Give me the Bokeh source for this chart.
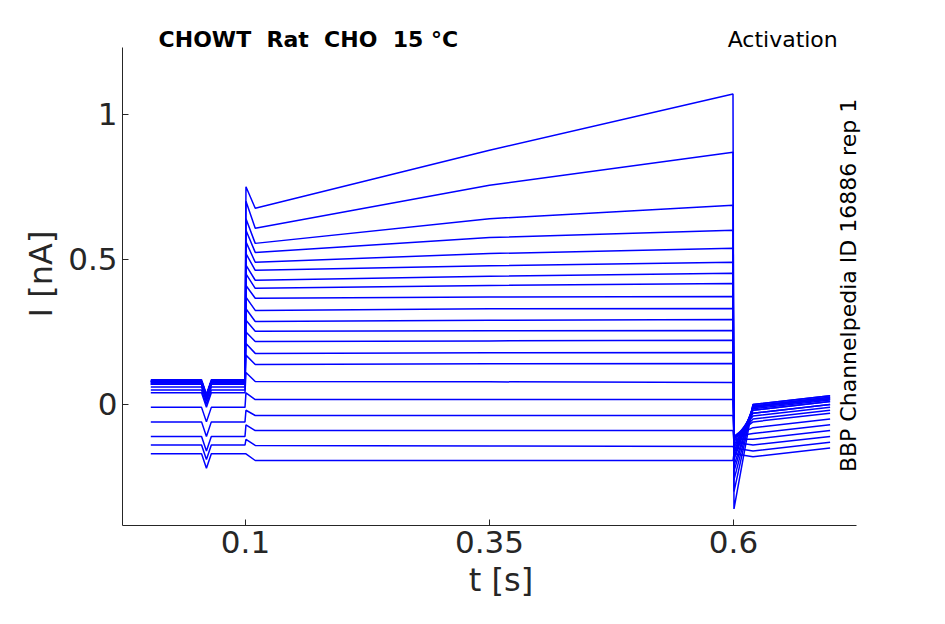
import numpy as np
from bokeh.plotting import figure
from bokeh.models import Label, Range1d
from bokeh.embed import file_html
from bokeh.resources import INLINE

pre   = [0.08,0.08,0.085,0.08,0.075,0.08,0.07,0.075,0.08,0.07,0.08,0.075,0.07,0.06,0.05,0.04,-0.01,-0.06,-0.11,-0.14,-0.17]
start = [0.676,0.607,0.555,0.524,0.490,0.462,0.428,0.400,0.366,0.324,0.286,0.252,0.217,0.176,0.138,0.079,0.017,-0.038,-0.090,-0.141,-0.193]
mid   = [0.876,0.755,0.640,0.575,0.520,0.478,0.442,0.410,0.370,0.330,0.290,0.254,0.219,0.178,0.140,0.078,0.017,-0.038,-0.090,-0.143,-0.193]
end   = [1.07,0.869,0.686,0.600,0.538,0.490,0.452,0.417,0.372,0.331,0.293,0.255,0.221,0.179,0.141,0.076,0.017,-0.038,-0.090,-0.145,-0.193]
post  = [0.03,0.03,0.025,0.025,0.02,0.02,0.02,0.015,0.01,0.01,0.0,0.0,-0.01,-0.02,-0.03,-0.05,-0.07,-0.09,-0.11,-0.13,-0.15]
peak_on = [0.75,0.70,0.64,0.60,0.56,0.52,0.48,0.45,0.41,0.37,0.33,0.29,0.25,0.21,0.17,0.11,0.04,-0.02,-0.07,-0.12,-0.17]
peak_off = [-0.36,-0.30,-0.26,-0.23,-0.21,-0.19,-0.18,-0.17,-0.16,-0.15,-0.14,-0.13,-0.12,-0.12,-0.11,-0.11,-0.11,-0.12,-0.13,-0.15,-0.17]
t_pts = [0.003,0.055,0.060,0.065,0.0995,0.1005,0.11,0.35,0.5995,0.6005,0.62,0.699]

p = figure(width=929, height=608, output_backend="svg", toolbar_location=None,
           x_range=Range1d(-0.026, 0.7496), y_range=Range1d(-0.417, 1.316),
           min_border_left=122, min_border_right=50, min_border_top=22, min_border_bottom=83)
p.outline_line_color = None
p.grid.visible = False

for i in range(len(start)):
    ys = [pre[i], pre[i], pre[i]-0.05, pre[i], pre[i], peak_on[i], start[i], mid[i], end[i], peak_off[i], post[i]-0.03, post[i]]
    p.line(t_pts, ys, color="#0000ff", line_width=1.5)

p.yaxis.bounds = (-0.417, 1.23)
p.xaxis.bounds = (-0.026, 0.726)
p.xaxis.ticker = [0.1, 0.35, 0.6]
p.xaxis.major_label_overrides = {0.1: "0.1", 0.35: "0.35", 0.6: "0.6"}
p.yaxis.ticker = [0, 0.5, 1]
p.yaxis.major_label_overrides = {0: "0", 0.5: "0.5", 1: "1"}
for ax in (p.xaxis, p.yaxis):
    ax.major_label_text_font_size = "31px"
    ax.axis_label_text_font_size = "32px"
    ax.major_label_text_font = "DejaVu Sans"
    ax.axis_label_text_font = "DejaVu Sans"
    ax.axis_label_text_font_style = "normal"
    ax.major_label_text_color = "#262626"
    ax.axis_label_text_color = "#262626"
    ax.axis_line_color = "#262626"
    ax.major_tick_line_color = "#262626"
    ax.minor_tick_line_color = None
    ax.major_tick_in = 6
    ax.major_tick_out = 0
p.xaxis.axis_label = "t [s]"
p.yaxis.axis_label = "I [nA]"

nb = "\u00a0\u00a0"
p.add_layout(Label(x=0.011, y=1.259, text=f"CHOWT{nb}Rat{nb}CHO{nb}15 °C", text_font="DejaVu Sans",
                   text_font_size="22px", text_font_style="bold", text_baseline="middle", text_color="black"))
p.add_layout(Label(x=0.594, y=1.259, text="Activation", text_font="DejaVu Sans",
                   text_font_size="22px", text_baseline="middle", text_color="black"))
p.add_layout(Label(x=0.718, y=0.41, text="BBP Channelpedia ID 16886 rep 1", text_font="DejaVu Sans",
                   text_font_size="22px", text_baseline="middle", text_align="center", angle=np.pi/2, text_color="black"))

open("out.html", "w").write(file_html(p, INLINE))
